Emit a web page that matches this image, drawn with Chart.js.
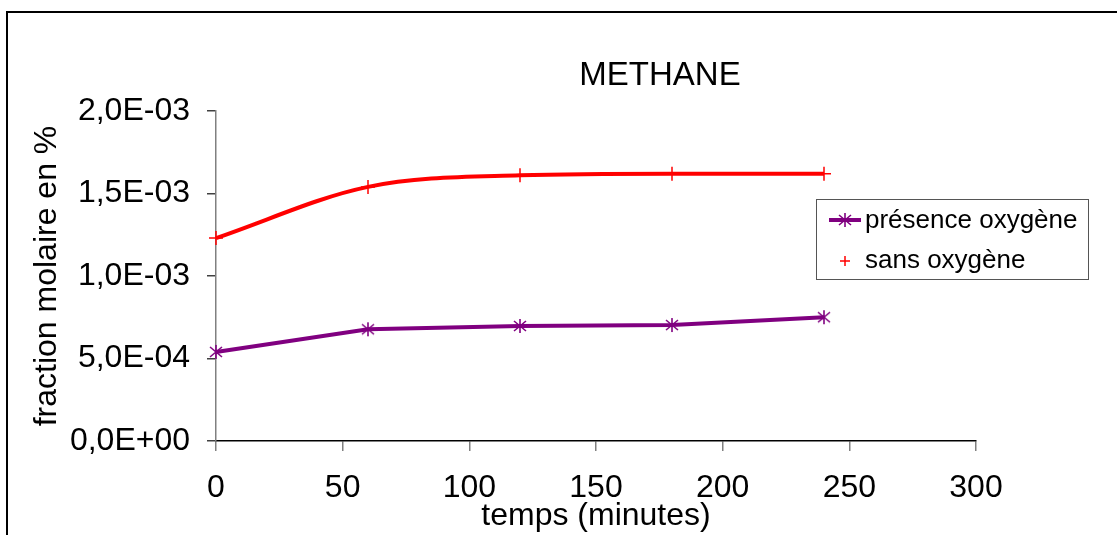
<!DOCTYPE html>
<html>
<head>
<meta charset="utf-8">
<script src="https://cdn.jsdelivr.net/npm/chart.js@4.4.1/dist/chart.umd.min.js"></script>
<style>
  html, body { margin: 0; padding: 0; background: #fff; }
  #wrap { width: 1117px; height: 535px; }
</style>
</head>
<body>
<div id="wrap"><canvas id="methaneChart" width="1117" height="535"></canvas></div>
<script>
// données
const minutes = [0, 60, 120, 180, 240];
const presenceOxygene = [0.000540, 0.000677, 0.000697, 0.000703, 0.000750];
const sansOxygene = [0.001230, 0.001540, 0.001610, 0.001620, 0.001620];
const xTicks = [0, 50, 100, 150, 200, 250, 300];
const yTicks = [0, 0.0005, 0.001, 0.0015, 0.002];

const FONT = 'Liberation Sans, Arial, sans-serif';

// format Excel : 2,0E-03
function sciLabel(v) {
    const s = Number(v).toExponential(1);
    const [m, e] = s.split('e');
    const sign = e[0] === '-' ? '-' : '+';
    const exp = Math.abs(parseInt(e, 10)).toString().padStart(2, '0');
    return m.replace('.', ',') + 'E' + sign + exp;
}

// marqueur étoile façon Excel (trait vertical + X)
function makeStar(color) {
    const cv = document.createElement('canvas');
    cv.width = 16;
    cv.height = 16;
    const g = cv.getContext('2d');
    g.strokeStyle = color;
    g.lineWidth = 1.6;
    g.beginPath();
    g.moveTo(8, 1); g.lineTo(8, 15);
    g.moveTo(2, 3); g.lineTo(14, 13);
    g.moveTo(14, 3); g.lineTo(2, 13);
    g.stroke();
    return cv;
}
const purpleStar = makeStar('#800080');

// cadre, titre et légende dessinés à la main
const decor = {
    id: 'decor',
    beforeDraw(chart) {
        const c = chart.ctx;
        c.save();
        c.fillStyle = '#fff';
        c.fillRect(0, 0, chart.width, chart.height);
        c.strokeStyle = '#000';
        c.lineWidth = 2;
        c.beginPath();
        c.moveTo(7, chart.height + 2);
        c.lineTo(7, 12);
        c.lineTo(chart.width + 2, 12);
        c.stroke();
        c.restore();
    },
    afterDraw(chart) {
        const c = chart.ctx;
        c.save();
        // titre
        c.fillStyle = '#000';
        c.font = '33px ' + FONT;
        c.textAlign = 'center';
        c.textBaseline = 'middle';
        c.fillText('METHANE', 660, 76);

        // légende
        c.strokeStyle = '#555';
        c.lineWidth = 1;
        c.strokeRect(816.5, 199.5, 272, 80);
        c.font = '26px ' + FONT;
        c.textAlign = 'left';
        const ds = chart.data.datasets;
        // présence oxygène : trait + étoile
        c.strokeStyle = ds[0].borderColor;
        c.lineWidth = 4;
        c.beginPath();
        c.moveTo(829, 220);
        c.lineTo(861, 220);
        c.stroke();
        c.drawImage(purpleStar, 837, 212);
        // sans oxygène : seulement la croix
        c.strokeStyle = ds[1].borderColor;
        c.lineWidth = 1.5;
        Chart.helpers.drawPoint(c, {pointStyle: 'cross', radius: 5, borderWidth: 1.5}, 845, 261);
        c.fillStyle = '#000';
        c.fillText('présence oxygène', 865, 221);
        c.fillText('sans oxygène', 865, 261);
        c.restore();
    }
};

const ctx = document.getElementById('methaneChart').getContext('2d');

new Chart(ctx, {
    type: 'line',
    data: {
        datasets: [
            {
                label: 'présence oxygène',
                data: minutes.map((m, i) => ({x: m, y: presenceOxygene[i]})),
                borderColor: '#800080',
                backgroundColor: '#800080',
                borderWidth: 4,
                pointStyle: purpleStar,
                tension: 0
            },
            {
                label: 'sans oxygène',
                data: minutes.map((m, i) => ({x: m, y: sansOxygene[i]})),
                borderColor: '#ff0000',
                backgroundColor: '#ff0000',
                borderWidth: 4,
                pointStyle: 'cross',
                pointRadius: 7,
                pointBorderWidth: 1.5,
                cubicInterpolationMode: 'monotone'
            }
        ]
    },
    options: {
        responsive: false,
        animation: false,
        clip: false,
        layout: {
            padding: {top: 111, right: 141, left: 0, bottom: 0}
        },
        plugins: {
            legend: {display: false},
            title: {display: false},
            tooltip: {enabled: false}
        },
        scales: {
            x: {
                type: 'linear',
                min: 0,
                max: 300,
                afterBuildTicks: (scale) => { scale.ticks = xTicks.map(v => ({value: v})); },
                afterFit: (scale) => { scale.height = 94; },
                grid: {
                    drawOnChartArea: false,
                    drawTicks: true,
                    tickLength: 10,
                    color: '#808080',
                    lineWidth: 1.5
                },
                border: {color: '#000', width: 1.5},
                ticks: {
                    color: '#000',
                    padding: 18,
                    maxRotation: 0,
                    font: {family: FONT, size: 32}
                },
                title: {
                    display: true,
                    text: 'temps (minutes)',
                    color: '#000',
                    padding: {top: 0, bottom: 0},
                    font: {family: FONT, size: 32}
                }
            },
            y: {
                min: 0,
                max: 0.002,
                afterBuildTicks: (scale) => { scale.ticks = yTicks.map(v => ({value: v})); },
                afterFit: (scale) => { scale.width = 216; },
                grid: {
                    drawOnChartArea: false,
                    drawTicks: true,
                    tickLength: 9,
                    color: '#404040',
                    lineWidth: 1.5
                },
                border: {color: '#808080', width: 1.5},
                ticks: {
                    color: '#000',
                    padding: 17,
                    callback: (v) => sciLabel(v),
                    font: {family: FONT, size: 32}
                },
                title: {
                    display: true,
                    text: 'fraction molaire en %',
                    color: '#000',
                    padding: {top: 28, bottom: 0},
                    font: {family: FONT, size: 32}
                }
            }
        }
    },
    plugins: [decor]
});
</script>
</body>
</html>
